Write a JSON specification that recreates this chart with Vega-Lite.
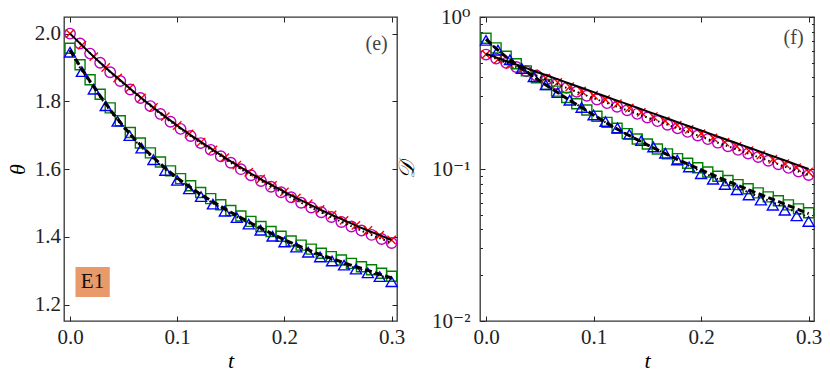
{
  "$schema": "https://vega.github.io/schema/vega-lite/v6.json",
  "padding": {"left": 5, "top": 5, "right": 5, "bottom": 5},
  "spacing": -12,
  "config": {
    "font": "'Liberation Serif', 'DejaVu Serif', serif",
    "view": {"stroke": "#333", "strokeWidth": 1.3},
    "axis": {
      "labelFont": "'Liberation Serif', 'DejaVu Serif', serif", "labelFontSize": 21, "labelColor": "#222",
      "tickColor": "#222", "tickSize": -5, "tickWidth": 1, "domain": false, "grid": false,
      "titleFont": "'Liberation Serif', 'DejaVu Serif', 'DejaVu Sans', serif", "titleFontSize": 22, "titleFontStyle": "italic",
      "titleFontWeight": "normal", "titleColor": "#000", "labelPadding": 9
    }
  },
  "datasets": {
    "mA": [
      {"t":0,"cL":2.000,"sL":1.957,"cR":0.566,"sR":0.7244},
      {"t":0.009375,"cL":1.971,"sL":1.908,"cR":0.5323,"sR":0.6269},
      {"t":0.01875,"cL":1.941,"sL":1.864,"cR":0.4994,"sR":0.5522},
      {"t":0.028125,"cL":1.914,"sL":1.821,"cR":0.4687,"sR":0.4927},
      {"t":0.0375,"cL":1.886,"sL":1.781,"cR":0.4396,"sR":0.4419},
      {"t":0.046875,"cL":1.860,"sL":1.743,"cR":0.4125,"sR":0.3981},
      {"t":0.05625,"cL":1.835,"sL":1.708,"cR":0.3872,"sR":0.3594},
      {"t":0.065625,"cL":1.810,"sL":1.677,"cR":0.3633,"sR":0.3252},
      {"t":0.075,"cL":1.786,"sL":1.648,"cR":0.3416,"sR":0.2951},
      {"t":0.084375,"cL":1.763,"sL":1.621,"cR":0.3220,"sR":0.2686},
      {"t":0.09375,"cL":1.740,"sL":1.595,"cR":0.3034,"sR":0.2444},
      {"t":0.103125,"cL":1.719,"sL":1.572,"cR":0.2867,"sR":0.2221},
      {"t":0.1125,"cL":1.698,"sL":1.551,"cR":0.2714,"sR":0.2025},
      {"t":0.121875,"cL":1.677,"sL":1.531,"cR":0.2570,"sR":0.1853},
      {"t":0.13125,"cL":1.657,"sL":1.513,"cR":0.2433,"sR":0.1708},
      {"t":0.140625,"cL":1.638,"sL":1.495,"cR":0.2304,"sR":0.1576},
      {"t":0.15,"cL":1.619,"sL":1.478,"cR":0.2182,"sR":0.1459},
      {"t":0.159375,"cL":1.600,"sL":1.462,"cR":0.2066,"sR":0.1353},
      {"t":0.16875,"cL":1.582,"sL":1.446,"cR":0.1956,"sR":0.1257},
      {"t":0.178125,"cL":1.565,"sL":1.431,"cR":0.1853,"sR":0.1170},
      {"t":0.1875,"cL":1.548,"sL":1.416,"cR":0.1754,"sR":0.1091},
      {"t":0.196875,"cL":1.532,"sL":1.402,"cR":0.1661,"sR":0.1020},
      {"t":0.20625,"cL":1.517,"sL":1.388,"cR":0.1573,"sR":0.0955},
      {"t":0.215625,"cL":1.501,"sL":1.376,"cR":0.1490,"sR":0.0896},
      {"t":0.225,"cL":1.487,"sL":1.364,"cR":0.1411,"sR":0.0841},
      {"t":0.234375,"cL":1.473,"sL":1.352,"cR":0.1336,"sR":0.0789},
      {"t":0.24375,"cL":1.459,"sL":1.342,"cR":0.1265,"sR":0.0742},
      {"t":0.253125,"cL":1.444,"sL":1.332,"cR":0.1198,"sR":0.0697},
      {"t":0.2625,"cL":1.431,"sL":1.322,"cR":0.1134,"sR":0.0656},
      {"t":0.271875,"cL":1.419,"sL":1.312,"cR":0.1074,"sR":0.0618},
      {"t":0.28125,"cL":1.406,"sL":1.303,"cR":0.1017,"sR":0.0581},
      {"t":0.290625,"cL":1.394,"sL":1.293,"cR":0.0963,"sR":0.0547},
      {"t":0.3,"cL":1.382,"sL":1.284,"cR":0.0912,"sR":0.0515}
    ],
    "mB": [
      {"t":0,"xL":2.000,"tL":1.945,"xR":0.568,"tR":0.7015},
      {"t":0.0111,"xL":1.966,"tL":1.888,"xR":0.5247,"tR":0.6048},
      {"t":0.0222,"xL":1.932,"tL":1.836,"xR":0.4862,"tR":0.5231},
      {"t":0.0333,"xL":1.900,"tL":1.787,"xR":0.4506,"tR":0.4585},
      {"t":0.0444,"xL":1.869,"tL":1.741,"xR":0.4222,"tR":0.4043},
      {"t":0.0556,"xL":1.839,"tL":1.699,"xR":0.3959,"tR":0.3580},
      {"t":0.0667,"xL":1.810,"tL":1.662,"xR":0.3711,"tR":0.3179},
      {"t":0.0778,"xL":1.782,"tL":1.628,"xR":0.3479,"tR":0.2836},
      {"t":0.0889,"xL":1.755,"tL":1.596,"xR":0.3262,"tR":0.2540},
      {"t":0.1,"xL":1.729,"tL":1.567,"xR":0.3057,"tR":0.2265},
      {"t":0.1111,"xL":1.704,"tL":1.542,"xR":0.2866,"tR":0.2052},
      {"t":0.1222,"xL":1.680,"tL":1.519,"xR":0.2686,"tR":0.1861},
      {"t":0.1333,"xL":1.657,"tL":1.497,"xR":0.2518,"tR":0.1689},
      {"t":0.1444,"xL":1.634,"tL":1.476,"xR":0.2360,"tR":0.1538},
      {"t":0.1556,"xL":1.612,"tL":1.457,"xR":0.2213,"tR":0.1395},
      {"t":0.1667,"xL":1.591,"tL":1.438,"xR":0.2074,"tR":0.1271},
      {"t":0.1778,"xL":1.571,"tL":1.420,"xR":0.1944,"tR":0.1146},
      {"t":0.1889,"xL":1.552,"tL":1.402,"xR":0.1823,"tR":0.1032},
      {"t":0.2,"xL":1.533,"tL":1.385,"xR":0.1708,"tR":0.0931},
      {"t":0.2111,"xL":1.515,"tL":1.370,"xR":0.1601,"tR":0.0856},
      {"t":0.2222,"xL":1.498,"tL":1.355,"xR":0.1501,"tR":0.0790},
      {"t":0.2333,"xL":1.481,"tL":1.341,"xR":0.1407,"tR":0.0730},
      {"t":0.2444,"xL":1.465,"tL":1.329,"xR":0.1319,"tR":0.0675},
      {"t":0.2556,"xL":1.449,"tL":1.317,"xR":0.1237,"tR":0.0624},
      {"t":0.2667,"xL":1.434,"tL":1.305,"xR":0.1159,"tR":0.0578},
      {"t":0.2778,"xL":1.419,"tL":1.294,"xR":0.1086,"tR":0.0535},
      {"t":0.2889,"xL":1.405,"tL":1.283,"xR":0.1019,"tR":0.0492},
      {"t":0.3,"xL":1.391,"tL":1.268,"xR":0.0955,"tR":0.0452}
    ],
    "ln": [
      {"t":0.00,"aL":2.000,"bL":2.000,"cL":1.952,"dL":1.948,"aR":0.573,"bR":0.566,"cR":0.7161,"dR":0.709},
      {"t":0.01,"aL":1.969,"bL":1.969,"cL":1.900,"dL":1.896,"aR":0.5406,"bR":0.5293,"cR":0.6138,"dR":0.6138},
      {"t":0.02,"aL":1.938,"bL":1.938,"cL":1.853,"dL":1.849,"aR":0.5101,"bR":0.4949,"cR":0.5370,"dR":0.5370},
      {"t":0.03,"aL":1.909,"bL":1.908,"cL":1.808,"dL":1.804,"aR":0.4813,"bR":0.4627,"cR":0.4764,"dR":0.4764},
      {"t":0.04,"aL":1.881,"bL":1.879,"cL":1.765,"dL":1.761,"aR":0.4541,"bR":0.4324,"cR":0.4246,"dR":0.4246},
      {"t":0.05,"aL":1.854,"bL":1.852,"cL":1.726,"dL":1.722,"aR":0.4284,"bR":0.4032,"cR":0.3802,"dR":0.3802},
      {"t":0.06,"aL":1.827,"bL":1.825,"cL":1.690,"dL":1.686,"aR":0.4042,"bR":0.3770,"cR":0.3412,"dR":0.3412},
      {"t":0.07,"aL":1.801,"bL":1.799,"cL":1.658,"dL":1.654,"aR":0.3814,"bR":0.3525,"cR":0.3069,"dR":0.3069},
      {"t":0.08,"aL":1.776,"bL":1.774,"cL":1.628,"dL":1.624,"aR":0.3598,"bR":0.3310,"cR":0.2773,"dR":0.2773},
      {"t":0.09,"aL":1.752,"bL":1.749,"cL":1.600,"dL":1.596,"aR":0.3395,"bR":0.3109,"cR":0.2512,"dR":0.2512},
      {"t":0.10,"aL":1.729,"bL":1.726,"cL":1.574,"dL":1.570,"aR":0.3203,"bR":0.2919,"cR":0.2265,"dR":0.2265},
      {"t":0.11,"aL":1.706,"bL":1.703,"cL":1.551,"dL":1.547,"aR":0.3022,"bR":0.2754,"cR":0.2051,"dR":0.2051},
      {"t":0.12,"aL":1.685,"bL":1.681,"cL":1.530,"dL":1.526,"aR":0.2851,"bR":0.2599,"cR":0.1862,"dR":0.1862},
      {"t":0.13,"aL":1.664,"bL":1.660,"cL":1.510,"dL":1.506,"aR":0.2690,"bR":0.2451,"cR":0.1706,"dR":0.1706},
      {"t":0.14,"aL":1.643,"bL":1.639,"cL":1.491,"dL":1.487,"aR":0.2538,"bR":0.2312,"cR":0.1567,"dR":0.1567},
      {"t":0.15,"aL":1.623,"bL":1.619,"cL":1.473,"dL":1.469,"aR":0.2395,"bR":0.2182,"cR":0.1442,"dR":0.1442},
      {"t":0.16,"aL":1.604,"bL":1.599,"cL":1.456,"dL":1.452,"aR":0.2260,"bR":0.2059,"cR":0.1330,"dR":0.1330},
      {"t":0.17,"aL":1.585,"bL":1.580,"cL":1.439,"dL":1.435,"aR":0.2132,"bR":0.1943,"cR":0.1230,"dR":0.1230},
      {"t":0.18,"aL":1.567,"bL":1.562,"cL":1.423,"dL":1.419,"aR":0.2012,"bR":0.1832,"cR":0.1140,"dR":0.1130},
      {"t":0.19,"aL":1.550,"bL":1.544,"cL":1.407,"dL":1.403,"aR":0.1898,"bR":0.1729,"cR":0.1059,"dR":0.1041},
      {"t":0.20,"aL":1.533,"bL":1.527,"cL":1.392,"dL":1.388,"aR":0.1791,"bR":0.1632,"cR":0.0986,"dR":0.0961},
      {"t":0.21,"aL":1.517,"bL":1.510,"cL":1.378,"dL":1.374,"aR":0.1690,"bR":0.1539,"cR":0.0920,"dR":0.0892},
      {"t":0.22,"aL":1.501,"bL":1.494,"cL":1.365,"dL":1.361,"aR":0.1594,"bR":0.1452,"cR":0.0859,"dR":0.0830},
      {"t":0.23,"aL":1.486,"bL":1.479,"cL":1.352,"dL":1.348,"aR":0.1504,"bR":0.1370,"cR":0.0804,"dR":0.0775},
      {"t":0.24,"aL":1.471,"bL":1.464,"cL":1.341,"dL":1.337,"aR":0.1419,"bR":0.1293,"cR":0.0752,"dR":0.0723},
      {"t":0.25,"aL":1.457,"bL":1.449,"cL":1.330,"dL":1.326,"aR":0.1339,"bR":0.1220,"cR":0.0703,"dR":0.0674},
      {"t":0.26,"aL":1.443,"bL":1.435,"cL":1.319,"dL":1.315,"aR":0.1263,"bR":0.1151,"cR":0.0659,"dR":0.0631},
      {"t":0.27,"aL":1.429,"bL":1.421,"cL":1.309,"dL":1.305,"aR":0.1192,"bR":0.1086,"cR":0.0618,"dR":0.0590},
      {"t":0.28,"aL":1.416,"bL":1.407,"cL":1.299,"dL":1.295,"aR":0.1125,"bR":0.1024,"cR":0.0579,"dR":0.0552},
      {"t":0.29,"aL":1.404,"bL":1.395,"cL":1.289,"dL":1.285,"aR":0.1061,"bR":0.0966,"cR":0.0543,"dR":0.0515},
      {"t":0.30,"aL":1.391,"bL":1.382,"cL":1.279,"dL":1.275,"aR":0.1001,"bR":0.0912,"cR":0.0509,"dR":0.0480}
    ],
    "annL": [{"t0":0.0051,"t1":0.0371,"y0":1.2227,"y1":1.3113,"tc":0.021,"yc":1.267,"lab":"E1"}],
    "tagL": [{"t":0.286,"v":1.970,"lab":"(e)"}],
    "tagR": [{"t":0.286,"v":0.727,"lab":"(f)"}]
  },
  "hconcat": [
    {
      "width": 333, "height": 304,
      "resolve": {"axis": {"x": "independent", "y": "independent"}},
      "layer": [
        {
          "data": {"name": "mA"},
          "mark": {"type": "point", "shape": "circle", "filled": false, "color": "#bf00bf", "strokeWidth": 1.4, "size": 110, "opacity": 1},
          "encoding": {
            "x": {"field": "t", "type": "quantitative", "scale": {"domain": [-0.0056, 0.305], "nice": false, "zero": false},
                  "axis": {"orient": "bottom", "values": [0, 0.1, 0.2, 0.3], "format": ".1f", "title": "t", "labelPadding": 10, "titlePadding": 3}},
            "y": {"field": "cL", "type": "quantitative", "scale": {"domain": [1.152, 2.049], "nice": false, "zero": false},
                  "axis": {"orient": "left", "values": [1.2, 1.4, 1.6, 1.8, 2.0], "format": ".1f", "title": "θ", "labelPadding": 8.5, "titlePadding": 5}}
          }
        },
        {
          "data": {"name": "mB"},
          "mark": {"type": "point", "shape": "M-1,-1L1,1M-1,1L1,-1", "filled": false, "color": "#ff0000", "strokeWidth": 1.4, "size": 70, "opacity": 1},
          "encoding": {
            "x": {"field": "t", "type": "quantitative", "axis": {"orient": "top", "values": [0, 0.1, 0.2, 0.3], "labels": false, "title": null}},
            "y": {"field": "xL", "type": "quantitative", "axis": {"orient": "right", "values": [1.2, 1.4, 1.6, 1.8, 2.0], "labels": false, "title": null}}
          }
        },
        {
          "data": {"name": "mA"},
          "mark": {"type": "point", "shape": "square", "filled": false, "color": "#008000", "strokeWidth": 1.4, "size": 100, "opacity": 1},
          "encoding": {
            "x": {"field": "t", "type": "quantitative", "axis": null},
            "y": {"field": "sL", "type": "quantitative", "axis": null}
          }
        },
        {
          "data": {"name": "mB"},
          "mark": {"type": "point", "shape": "triangle-up", "filled": false, "color": "#0000ff", "strokeWidth": 1.4, "size": 121, "opacity": 1},
          "encoding": {
            "x": {"field": "t", "type": "quantitative", "axis": null},
            "y": {"field": "tL", "type": "quantitative", "axis": null}
          }
        },
        {
          "data": {"name": "ln"},
          "mark": {"type": "line", "color": "#000", "strokeWidth": 2},
          "encoding": {"x": {"field": "t", "type": "quantitative", "axis": null}, "y": {"field": "aL", "type": "quantitative", "axis": null}}
        },
        {
          "data": {"name": "ln"},
          "mark": {"type": "line", "color": "#000", "strokeWidth": 2, "strokeDash": [1.5, 3]},
          "encoding": {"x": {"field": "t", "type": "quantitative", "axis": null}, "y": {"field": "bL", "type": "quantitative", "axis": null}}
        },
        {
          "data": {"name": "ln"},
          "mark": {"type": "line", "color": "#000", "strokeWidth": 2, "strokeDash": [1.5, 3]},
          "encoding": {"x": {"field": "t", "type": "quantitative", "axis": null}, "y": {"field": "dL", "type": "quantitative", "axis": null}}
        },
        {
          "data": {"name": "ln"},
          "mark": {"type": "line", "color": "#000", "strokeWidth": 3, "strokeDash": [7, 3.5]},
          "encoding": {"x": {"field": "t", "type": "quantitative", "axis": null}, "y": {"field": "cL", "type": "quantitative", "axis": null}}
        },
        {
          "data": {"name": "annL"},
          "mark": {"type": "rect", "color": "#e99a6b", "opacity": 1},
          "encoding": {
            "x": {"field": "t0", "type": "quantitative", "axis": null}, "x2": {"field": "t1"},
            "y": {"field": "y0", "type": "quantitative", "axis": null}, "y2": {"field": "y1"}
          }
        },
        {
          "data": {"name": "annL"},
          "mark": {"type": "text", "font": "'Liberation Serif', 'DejaVu Serif', serif", "fontSize": 21, "color": "#111", "align": "center", "baseline": "middle"},
          "encoding": {
            "x": {"field": "tc", "type": "quantitative", "axis": null},
            "y": {"field": "yc", "type": "quantitative", "axis": null},
            "text": {"field": "lab"}
          }
        },
        {
          "data": {"name": "tagL"},
          "mark": {"type": "text", "font": "'Liberation Serif', 'DejaVu Serif', serif", "fontSize": 20, "color": "#444", "align": "center", "baseline": "middle"},
          "encoding": {
            "x": {"field": "t", "type": "quantitative", "axis": null},
            "y": {"field": "v", "type": "quantitative", "axis": null},
            "text": {"field": "lab"}
          }
        }
      ]
    },
    {
      "width": 334, "height": 304,
      "resolve": {"axis": {"x": "independent", "y": "independent"}},
      "layer": [
        {
          "data": {"name": "mA"},
          "mark": {"type": "point", "shape": "circle", "filled": false, "color": "#bf00bf", "strokeWidth": 1.4, "size": 110, "opacity": 1},
          "encoding": {
            "x": {"field": "t", "type": "quantitative", "scale": {"domain": [-0.0056, 0.305], "nice": false, "zero": false},
                  "axis": {"orient": "bottom", "values": [0, 0.1, 0.2, 0.3], "format": ".1f", "title": "t", "labelPadding": 10, "titlePadding": 3}},
            "y": {"field": "cR", "type": "quantitative", "scale": {"type": "log", "domain": [0.01, 1], "nice": false},
                  "axis": {"orient": "left", "values": [0.01, 0.1, 1], "labelExpr": "datum.value > 0.5 ? '10⁰' : datum.value > 0.05 ? '10⁻¹' : '10⁻²'", "title": "𝒟", "labelPadding": 15, "titlePadding": 13}}
          }
        },
        {
          "data": {"name": "mB"},
          "mark": {"type": "point", "shape": "M-1,-1L1,1M-1,1L1,-1", "filled": false, "color": "#ff0000", "strokeWidth": 1.4, "size": 70, "opacity": 1},
          "encoding": {
            "x": {"field": "t", "type": "quantitative", "axis": {"orient": "top", "values": [0, 0.1, 0.2, 0.3], "labels": false, "title": null}},
            "y": {"field": "xR", "type": "quantitative", "axis": {"orient": "right", "values": [0.01, 0.1, 1], "labels": false, "title": null}}
          }
        },
        {
          "data": {"name": "mA"},
          "mark": {"type": "point", "shape": "square", "filled": false, "color": "#008000", "strokeWidth": 1.4, "size": 100, "opacity": 1},
          "encoding": {
            "x": {"field": "t", "type": "quantitative", "axis": null},
            "y": {"field": "sR", "type": "quantitative", "axis": {"orient": "left", "values": [0.02, 0.03, 0.04, 0.05, 0.06, 0.07, 0.08, 0.09, 0.2, 0.3, 0.4, 0.5, 0.6, 0.7, 0.8, 0.9], "labels": false, "title": null, "tickSize": -2.5}}
          }
        },
        {
          "data": {"name": "mB"},
          "mark": {"type": "point", "shape": "triangle-up", "filled": false, "color": "#0000ff", "strokeWidth": 1.4, "size": 121, "opacity": 1},
          "encoding": {
            "x": {"field": "t", "type": "quantitative", "axis": null},
            "y": {"field": "tR", "type": "quantitative", "axis": {"orient": "right", "values": [0.02, 0.03, 0.04, 0.05, 0.06, 0.07, 0.08, 0.09, 0.2, 0.3, 0.4, 0.5, 0.6, 0.7, 0.8, 0.9], "labels": false, "title": null, "tickSize": -2.5}}
          }
        },
        {
          "data": {"name": "ln"},
          "mark": {"type": "line", "color": "#000", "strokeWidth": 2},
          "encoding": {"x": {"field": "t", "type": "quantitative", "axis": null}, "y": {"field": "aR", "type": "quantitative", "axis": null}}
        },
        {
          "data": {"name": "ln"},
          "mark": {"type": "line", "color": "#000", "strokeWidth": 2, "strokeDash": [1.5, 3]},
          "encoding": {"x": {"field": "t", "type": "quantitative", "axis": null}, "y": {"field": "bR", "type": "quantitative", "axis": null}}
        },
        {
          "data": {"name": "ln"},
          "mark": {"type": "line", "color": "#000", "strokeWidth": 2, "strokeDash": [1.5, 3]},
          "encoding": {"x": {"field": "t", "type": "quantitative", "axis": null}, "y": {"field": "dR", "type": "quantitative", "axis": null}}
        },
        {
          "data": {"name": "ln"},
          "mark": {"type": "line", "color": "#000", "strokeWidth": 3, "strokeDash": [7, 3.5]},
          "encoding": {"x": {"field": "t", "type": "quantitative", "axis": null}, "y": {"field": "cR", "type": "quantitative", "axis": null}}
        },
        {
          "data": {"name": "tagR"},
          "mark": {"type": "text", "font": "'Liberation Serif', 'DejaVu Serif', serif", "fontSize": 20, "color": "#444", "align": "center", "baseline": "middle"},
          "encoding": {
            "x": {"field": "t", "type": "quantitative", "axis": null},
            "y": {"field": "v", "type": "quantitative", "axis": null},
            "text": {"field": "lab"}
          }
        }
      ]
    }
  ]
}
